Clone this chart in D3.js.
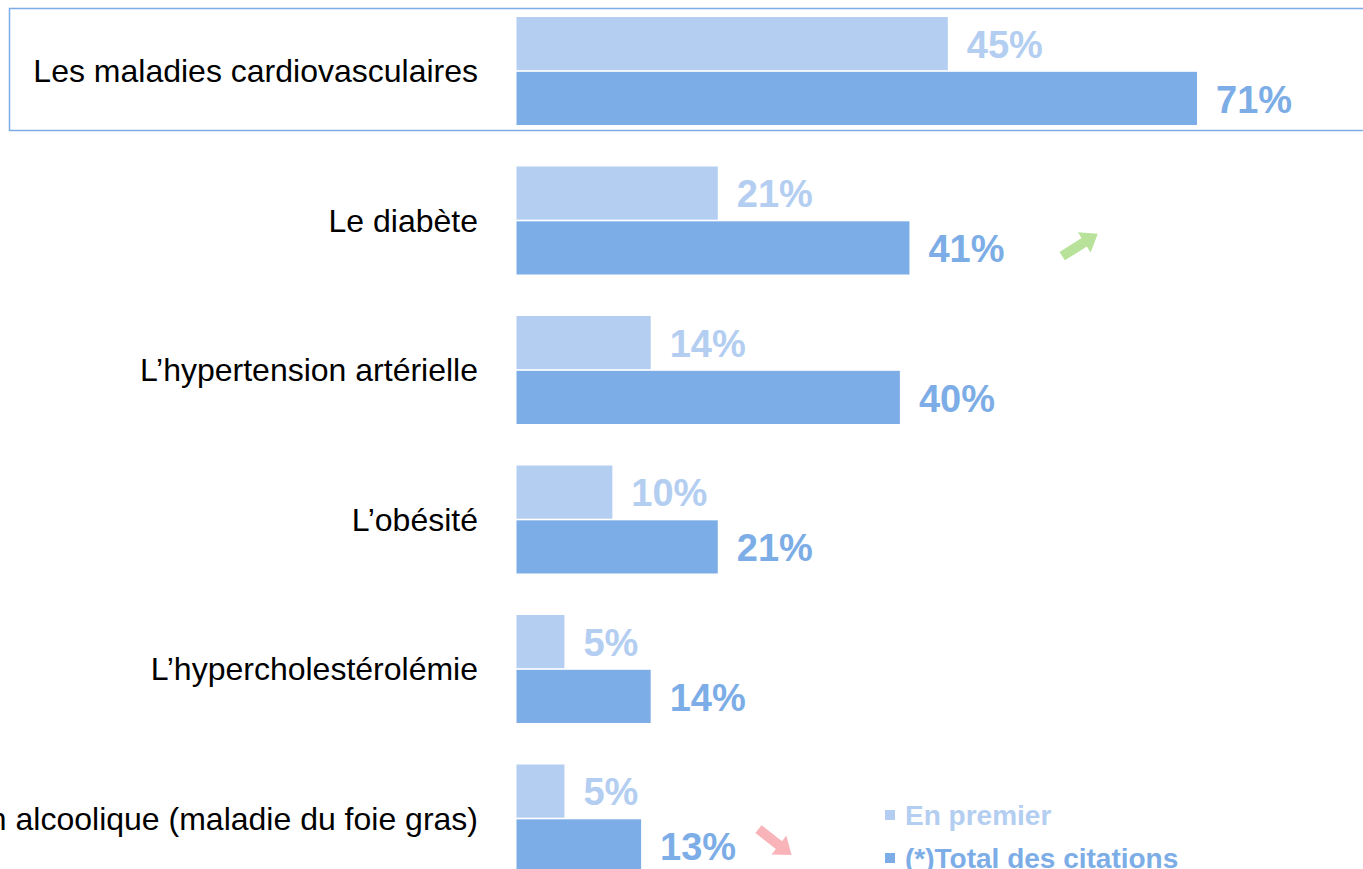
<!DOCTYPE html>
<html>
<head>
<meta charset="utf-8">
<script src="https://cdn.jsdelivr.net/npm/d3@7"></script>
<style>
  html, body { margin: 0; padding: 0; background: #fff; overflow: hidden; }
  svg { display: block; font-family: "Liberation Sans", Arial, sans-serif; }
</style>
</head>
<body>
<div id="chart"></div>
<script>
// données
const categories = [
    "Les maladies cardiovasculaires",
    "Le diabète",
    "L’hypertension artérielle",
    "L’obésité",
    "L’hypercholestérolémie",
    "La stéatose hépatique non alcoolique (maladie du foie gras)"
];
const enPremier = [45, 21, 14, 10, 5, 5];
const totalCitations = [71, 41, 40, 21, 14, 13];
const seriesNames = ["En premier", "(*)Total des citations"];
const trends = [null, "up", null, null, null, "down"];

const width = 1363, height = 869;
const lightColor = "#b3cef1", darkColor = "#7dade6";

const svg = d3.select("#chart").append("svg")
    .attr("width", width)
    .attr("height", height);

// échelles
const step = 149.5, band = 108;
const x = d3.scaleLinear().domain([0, 71]).range([516.5, 1197]);
const y = d3.scaleBand().domain(categories)
    .range([17, 17 + step * 6 - (step - band)])
    .paddingInner((step - band) / step).paddingOuter(0);
const sub = d3.scaleBand().domain(seriesNames).range([0, y.bandwidth()]).paddingInner(0.03);

// cadre autour de la première ligne
svg.append("rect")
    .attr("x", 9.5).attr("y", 8.5)
    .attr("width", width).attr("height", 122)
    .attr("fill", "none")
    .attr("stroke", darkColor)
    .attr("stroke-width", 1.5);

const rows = categories.map((c, i) => ({cat: c, vals: [enPremier[i], totalCitations[i]], trend: trends[i]}));

const g = svg.append("g");
const row = g.selectAll("g.row").data(rows).enter().append("g")
    .attr("class", "row")
    .attr("transform", d => `translate(0,${y(d.cat)})`);

// libellés des catégories
row.append("text")
    .attr("x", 478)
    .attr("y", y.bandwidth() / 2)
    .attr("dy", "0.35em")
    .attr("text-anchor", "end")
    .attr("font-size", 32)
    .attr("fill", "#000")
    .text(d => d.cat);

// barres
row.selectAll("rect.bar")
    .data(d => d.vals.map((v, j) => ({v, s: seriesNames[j], j})))
    .enter().append("rect")
    .attr("class", "bar")
    .attr("x", x(0))
    .attr("y", d => sub(d.s))
    .attr("width", d => x(d.v) - x(0))
    .attr("height", sub.bandwidth())
    .attr("fill", d => d.j === 0 ? lightColor : darkColor);

// valeurs
row.selectAll("text.val")
    .data(d => d.vals.map((v, j) => ({v, s: seriesNames[j], j})))
    .enter().append("text")
    .attr("class", "val")
    .attr("x", d => x(d.v) + 19)
    .attr("y", d => sub(d.s) + sub.bandwidth() / 2 + 1)
    .attr("dy", "0.35em")
    .attr("font-size", 38)
    .attr("font-weight", "bold")
    .attr("fill", d => d.j === 0 ? lightColor : darkColor)
    .text(d => d.v + "%");

// flèches de tendance
const arrowPath = "M -21 -5 L 5 -5 L 5 -12 L 21 0 L 5 12 L 5 5 L -21 5 Z";
row.filter(d => d.trend).append("path")
    .attr("d", arrowPath)
    .attr("fill", d => d.trend === "up" ? "#b8e29a" : "#f8b4b8")
    .attr("transform", d => {
        const cx = d.trend === "up" ? 1080 : 775;
        const cy = d.trend === "up" ? 245 - y(d.cat) : 842 - y(d.cat);
        const a = d.trend === "up" ? -32 : 38;
        return `translate(${cx},${cy}) rotate(${a})`;
    });

// légende
const legend = svg.append("g").attr("transform", "translate(885,815)");
seriesNames.forEach((s, i) => {
    const lg = legend.append("g").attr("transform", `translate(0,${i * 43})`);
    lg.append("rect")
        .attr("x", 0).attr("y", -5)
        .attr("width", 10).attr("height", 10)
        .attr("fill", i === 0 ? lightColor : darkColor);
    lg.append("text")
        .attr("x", 20).attr("y", 0)
        .attr("dy", "0.35em")
        .attr("font-size", 28)
        .attr("font-weight", "bold")
        .attr("fill", i === 0 ? lightColor : darkColor)
        .text(s);
});
</script>
</body>
</html>
